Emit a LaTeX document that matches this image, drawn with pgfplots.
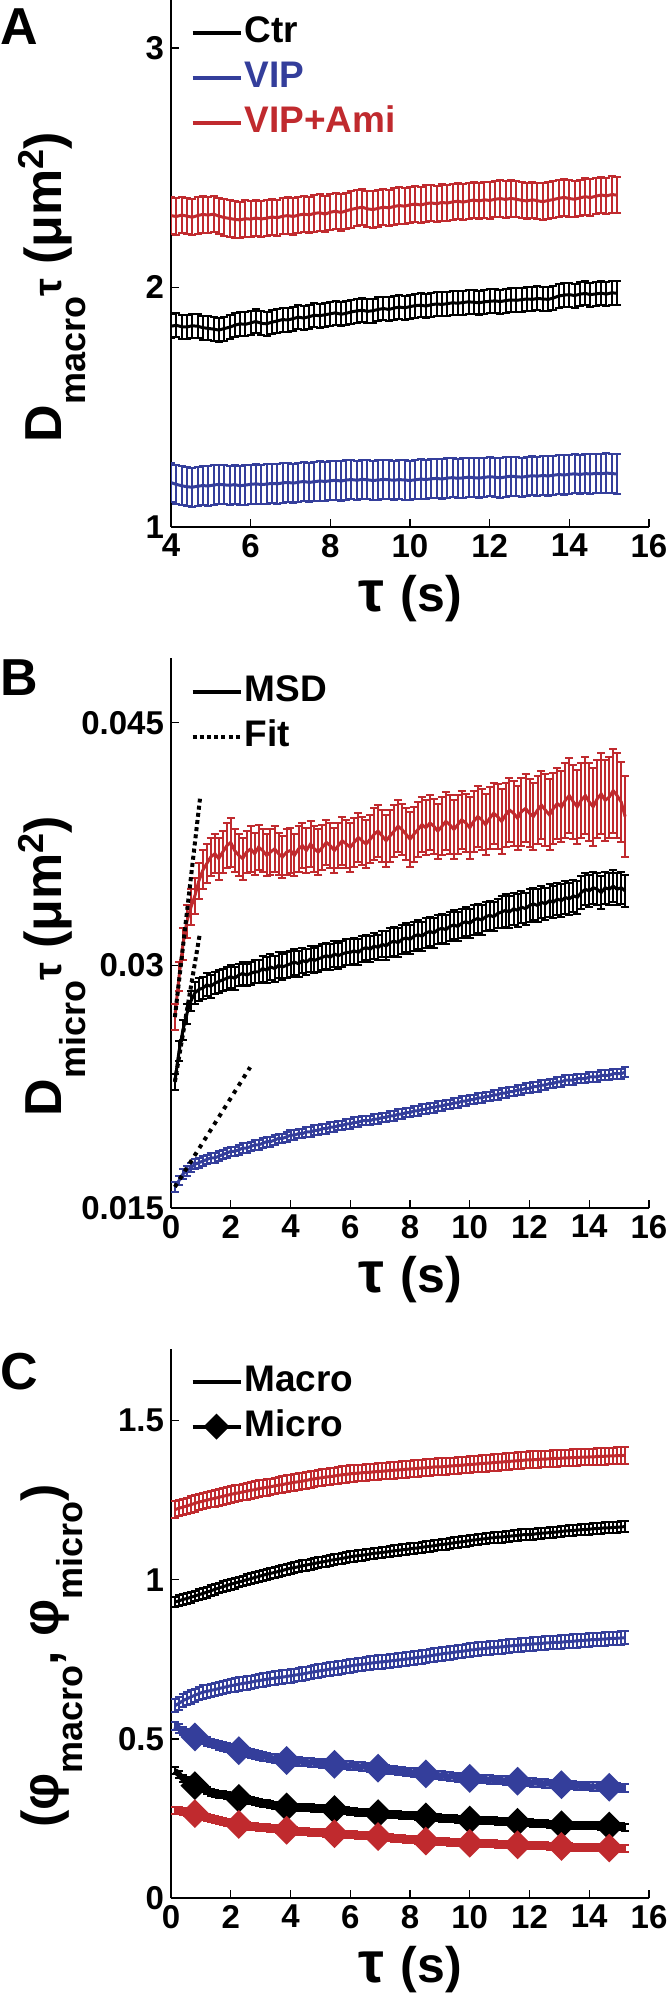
\documentclass[border=0pt]{standalone}
\usepackage{fontspec}
\setmainfont{Liberation Sans}
\usepackage{pgfplots}
\pgfplotsset{compat=1.18}
\usepackage{pgfplotstable}

\definecolor{cred}{RGB}{192,42,46}
\definecolor{cblue}{RGB}{52,62,155}

\newcommand{\tickf}{\bfseries\fontsize{16.5}{18}\selectfont}
\newcommand{\legf}{\bfseries\fontsize{18.5}{20}\selectfont}
\newcommand{\labf}{\bfseries\fontsize{25}{28}\selectfont}
\newcommand{\ylabf}{\bfseries\fontsize{26}{28}\selectfont}
\newcommand{\subf}{\fontsize{18}{18}\selectfont}

\pgfplotsset{
  panel/.style={
    scale only axis, width=239pt,
    axis x line*=bottom, axis y line*=left,
    axis line style={line width=0.7pt},
    every tick/.style={black, line width=0.7pt},
    major tick length=4pt,
    tick align=inside,
    xmax=16,
    scaled y ticks=false,
    tick label style={font=\tickf},
    /pgf/number format/assume math mode=true,
    xlabel={{\fontsize{29}{29}\selectfont τ}\,\,(s)},
    xlabel style={font=\labf, at={(axis description cs:0.5,0)}, anchor=north, inner sep=0pt, yshift=-24pt},
    ylabel style={font=\ylabf, anchor=center},
    legend style={draw=none, fill=none, font=\legf, anchor=north west, inner sep=0pt, row sep=4pt,
      nodes={inner sep=1pt, text height=13pt, text depth=3.5pt}},
    legend cell align=left,
    legend image post style={line width=2pt},
    legend image code/.code={\draw[mark repeat=2,mark phase=2,##1] plot coordinates {(0pt,0pt) (12pt,0pt) (24pt,0pt)};},
  },
  ebar/.style={error bars/.cd, y dir=both, #1,
    error mark options={rotate=90, mark size=2pt, line width=1pt},
    error bar style={line width=1pt}},
}

% panel A: D_macro tau
\pgfplotstableread{
x ctr vip ami
4.00 1.838 1.185 2.300
4.13 1.842 1.178 2.296
4.27 1.836 1.172 2.302
4.40 1.835 1.168 2.298
4.53 1.840 1.166 2.293
4.67 1.838 1.170 2.300
4.80 1.832 1.173 2.305
4.93 1.829 1.171 2.302
5.07 1.826 1.175 2.306
5.20 1.822 1.178 2.298
5.33 1.828 1.176 2.292
5.47 1.834 1.174 2.288
5.60 1.842 1.177 2.284
5.73 1.848 1.172 2.282
5.87 1.846 1.175 2.287
6.00 1.852 1.178 2.285
6.13 1.858 1.180 2.290
6.27 1.850 1.177 2.286
6.40 1.848 1.179 2.289
6.53 1.855 1.182 2.294
6.67 1.860 1.180 2.291
6.80 1.866 1.184 2.297
6.93 1.864 1.186 2.300
7.07 1.870 1.183 2.296
7.20 1.876 1.187 2.302
7.33 1.872 1.190 2.306
7.47 1.878 1.186 2.303
7.60 1.884 1.189 2.309
7.73 1.882 1.192 2.312
7.87 1.886 1.190 2.306
8.00 1.890 1.193 2.314
8.13 1.894 1.195 2.318
8.27 1.888 1.192 2.313
8.40 1.892 1.196 2.320
8.53 1.898 1.198 2.326
8.67 1.902 1.195 2.331
8.80 1.905 1.199 2.335
8.93 1.900 1.197 2.328
9.07 1.903 1.194 2.325
9.20 1.908 1.196 2.330
9.33 1.912 1.199 2.335
9.47 1.908 1.197 2.332
9.60 1.914 1.195 2.338
9.73 1.918 1.198 2.342
9.87 1.915 1.196 2.339
10.00 1.920 1.194 2.345
10.13 1.924 1.197 2.348
10.27 1.926 1.200 2.344
10.40 1.922 1.198 2.350
10.53 1.928 1.201 2.353
10.67 1.931 1.203 2.349
10.80 1.929 1.200 2.355
10.93 1.932 1.204 2.352
11.07 1.936 1.206 2.357
11.20 1.934 1.203 2.360
11.33 1.937 1.205 2.356
11.47 1.940 1.208 2.361
11.60 1.938 1.206 2.365
11.73 1.936 1.204 2.361
11.87 1.940 1.207 2.366
12.00 1.942 1.210 2.363
12.13 1.944 1.208 2.368
12.27 1.941 1.205 2.371
12.40 1.945 1.209 2.367
12.53 1.948 1.212 2.372
12.67 1.946 1.210 2.368
12.80 1.949 1.208 2.364
12.93 1.952 1.211 2.361
13.07 1.950 1.214 2.366
13.20 1.954 1.212 2.362
13.33 1.952 1.215 2.358
13.47 1.950 1.213 2.363
13.60 1.956 1.216 2.367
13.73 1.964 1.219 2.372
13.87 1.968 1.217 2.376
14.00 1.970 1.220 2.371
14.13 1.966 1.222 2.368
14.27 1.972 1.219 2.374
14.40 1.975 1.223 2.379
14.53 1.970 1.221 2.375
14.67 1.973 1.224 2.381
14.80 1.976 1.222 2.386
14.93 1.972 1.225 2.382
15.07 1.978 1.223 2.388
15.20 1.975 1.221 2.385
}\tabA

% panel B: D_micro tau with errors
\pgfplotstableread{
x ctr ectr vip evip ami eami
0.13 0.0228 0.0005 0.0163 0.0003 0.0268 0.0008
0.27 0.0247 0.0006 0.0167 0.0003 0.0293 0.0009
0.40 0.0260 0.0006 0.0171 0.0003 0.0313 0.0010
0.53 0.0270 0.0006 0.0173 0.0003 0.0327 0.0010
0.67 0.0278 0.0006 0.0175 0.0003 0.0336 0.0011
0.80 0.0283 0.0007 0.0177 0.0003 0.0343 0.0011
0.93 0.0285 0.0007 0.0178 0.0003 0.0352 0.0011
1.07 0.0286 0.0007 0.0179 0.0003 0.0359 0.0012
1.20 0.0288 0.0007 0.0180 0.0003 0.0363 0.0012
1.33 0.0287 0.0007 0.0181 0.0003 0.0367 0.0012
1.47 0.0289 0.0007 0.0181 0.0003 0.0369 0.0012
1.60 0.0290 0.0007 0.0182 0.0003 0.0366 0.0013
1.73 0.0291 0.0007 0.0183 0.0003 0.0370 0.0013
1.87 0.0292 0.0007 0.0184 0.0003 0.0374 0.0014
2.00 0.0293 0.0007 0.0185 0.0003 0.0376 0.0015
2.13 0.0292 0.0007 0.0185 0.0003 0.0371 0.0013
2.27 0.0294 0.0007 0.0186 0.0003 0.0368 0.0013
2.40 0.0295 0.0007 0.0187 0.0003 0.0366 0.0013
2.53 0.0294 0.0007 0.0187 0.0003 0.0370 0.0013
2.67 0.0295 0.0007 0.0188 0.0003 0.0372 0.0014
2.80 0.0296 0.0007 0.0189 0.0003 0.0369 0.0013
2.93 0.0296 0.0007 0.0189 0.0003 0.0373 0.0014
3.07 0.0298 0.0008 0.0190 0.0003 0.0371 0.0013
3.20 0.0297 0.0008 0.0191 0.0003 0.0368 0.0013
3.33 0.0299 0.0008 0.0191 0.0003 0.0370 0.0014
3.47 0.0298 0.0008 0.0192 0.0003 0.0372 0.0014
3.60 0.0300 0.0008 0.0193 0.0003 0.0369 0.0013
3.73 0.0299 0.0008 0.0193 0.0003 0.0367 0.0013
3.87 0.0300 0.0008 0.0194 0.0003 0.0370 0.0014
4.00 0.0301 0.0008 0.0195 0.0003 0.0371 0.0014
4.13 0.0302 0.0008 0.0195 0.0003 0.0368 0.0013
4.27 0.0301 0.0008 0.0196 0.0003 0.0372 0.0014
4.40 0.0303 0.0008 0.0196 0.0003 0.0374 0.0014
4.53 0.0302 0.0008 0.0197 0.0003 0.0371 0.0014
4.67 0.0304 0.0008 0.0197 0.0003 0.0375 0.0014
4.80 0.0303 0.0008 0.0198 0.0003 0.0372 0.0014
4.93 0.0304 0.0008 0.0198 0.0003 0.0370 0.0014
5.07 0.0305 0.0008 0.0199 0.0003 0.0373 0.0014
5.20 0.0306 0.0008 0.0199 0.0003 0.0376 0.0014
5.33 0.0305 0.0008 0.0200 0.0003 0.0374 0.0014
5.47 0.0307 0.0008 0.0200 0.0003 0.0371 0.0014
5.60 0.0306 0.0008 0.0201 0.0003 0.0374 0.0014
5.73 0.0307 0.0008 0.0201 0.0003 0.0377 0.0015
5.87 0.0308 0.0008 0.0202 0.0003 0.0375 0.0015
6.00 0.0308 0.0008 0.0202 0.0003 0.0373 0.0015
6.13 0.0309 0.0008 0.0203 0.0003 0.0376 0.0015
6.27 0.0308 0.0008 0.0203 0.0003 0.0379 0.0015
6.40 0.0310 0.0008 0.0204 0.0003 0.0377 0.0015
6.53 0.0311 0.0008 0.0204 0.0003 0.0375 0.0015
6.67 0.0310 0.0008 0.0204 0.0003 0.0378 0.0015
6.80 0.0312 0.0008 0.0205 0.0003 0.0381 0.0016
6.93 0.0311 0.0008 0.0205 0.0003 0.0383 0.0016
7.07 0.0313 0.0008 0.0206 0.0003 0.0380 0.0016
7.20 0.0312 0.0009 0.0206 0.0003 0.0377 0.0016
7.33 0.0314 0.0009 0.0207 0.0003 0.0380 0.0016
7.47 0.0315 0.0009 0.0207 0.0003 0.0383 0.0016
7.60 0.0314 0.0009 0.0208 0.0003 0.0386 0.0016
7.73 0.0316 0.0009 0.0208 0.0003 0.0384 0.0016
7.87 0.0317 0.0009 0.0209 0.0003 0.0381 0.0016
8.00 0.0316 0.0009 0.0209 0.0003 0.0378 0.0017
8.13 0.0318 0.0009 0.0210 0.0003 0.0381 0.0017
8.27 0.0319 0.0009 0.0210 0.0003 0.0384 0.0017
8.40 0.0318 0.0009 0.0211 0.0003 0.0387 0.0017
8.53 0.0320 0.0009 0.0211 0.0003 0.0385 0.0017
8.67 0.0321 0.0009 0.0212 0.0003 0.0388 0.0017
8.80 0.0320 0.0009 0.0212 0.0003 0.0386 0.0017
8.93 0.0322 0.0009 0.0213 0.0003 0.0383 0.0017
9.07 0.0323 0.0009 0.0213 0.0003 0.0386 0.0018
9.20 0.0322 0.0009 0.0214 0.0003 0.0389 0.0018
9.33 0.0324 0.0009 0.0214 0.0003 0.0387 0.0018
9.47 0.0325 0.0009 0.0215 0.0003 0.0384 0.0018
9.60 0.0324 0.0009 0.0215 0.0003 0.0387 0.0018
9.73 0.0326 0.0009 0.0216 0.0003 0.0390 0.0018
9.87 0.0327 0.0009 0.0216 0.0003 0.0388 0.0018
10.00 0.0326 0.0009 0.0217 0.0003 0.0385 0.0019
10.13 0.0328 0.0009 0.0217 0.0003 0.0389 0.0019
10.27 0.0329 0.0009 0.0218 0.0003 0.0392 0.0019
10.40 0.0328 0.0009 0.0218 0.0003 0.0390 0.0019
10.53 0.0330 0.0009 0.0219 0.0003 0.0387 0.0019
10.67 0.0331 0.0009 0.0219 0.0003 0.0391 0.0019
10.80 0.0330 0.0009 0.0220 0.0003 0.0394 0.0019
10.93 0.0332 0.0009 0.0220 0.0003 0.0392 0.0020
11.07 0.0333 0.0010 0.0221 0.0003 0.0389 0.0020
11.20 0.0334 0.0010 0.0221 0.0003 0.0393 0.0020
11.33 0.0333 0.0010 0.0222 0.0003 0.0396 0.0020
11.47 0.0335 0.0010 0.0222 0.0003 0.0394 0.0020
11.60 0.0334 0.0010 0.0223 0.0003 0.0391 0.0020
11.73 0.0336 0.0010 0.0223 0.0003 0.0395 0.0021
11.87 0.0335 0.0010 0.0224 0.0003 0.0397 0.0021
12.00 0.0337 0.0010 0.0224 0.0003 0.0394 0.0021
12.13 0.0338 0.0010 0.0225 0.0003 0.0392 0.0021
12.27 0.0337 0.0010 0.0225 0.0003 0.0396 0.0021
12.40 0.0339 0.0010 0.0226 0.0003 0.0399 0.0021
12.53 0.0338 0.0010 0.0226 0.0003 0.0396 0.0022
12.67 0.0340 0.0010 0.0227 0.0003 0.0393 0.0022
12.80 0.0339 0.0010 0.0227 0.0003 0.0397 0.0022
12.93 0.0341 0.0010 0.0228 0.0003 0.0400 0.0022
13.07 0.0340 0.0010 0.0228 0.0003 0.0398 0.0022
13.20 0.0342 0.0010 0.0229 0.0003 0.0402 0.0023
13.33 0.0341 0.0010 0.0229 0.0003 0.0405 0.0023
13.47 0.0343 0.0010 0.0229 0.0003 0.0401 0.0023
13.60 0.0342 0.0010 0.0230 0.0003 0.0398 0.0023
13.73 0.0345 0.0010 0.0230 0.0003 0.0402 0.0023
13.87 0.0347 0.0010 0.0230 0.0003 0.0405 0.0024
14.00 0.0346 0.0010 0.0231 0.0003 0.0401 0.0024
14.13 0.0348 0.0010 0.0231 0.0003 0.0398 0.0024
14.27 0.0347 0.0010 0.0231 0.0003 0.0403 0.0024
14.40 0.0345 0.0010 0.0232 0.0003 0.0406 0.0025
14.53 0.0348 0.0010 0.0232 0.0003 0.0402 0.0025
14.67 0.0347 0.0010 0.0232 0.0003 0.0404 0.0025
14.80 0.0349 0.0010 0.0233 0.0003 0.0408 0.0026
14.93 0.0347 0.0010 0.0233 0.0003 0.0405 0.0026
15.07 0.0348 0.0010 0.0233 0.0003 0.0401 0.0025
15.20 0.0346 0.0010 0.0234 0.0003 0.0392 0.0025
}\tabB

% panel C: phi macro (M) and micro (m)
\pgfplotstableread{
x ctrM vipM amiM ctrm vipm amim
0.13 0.930 0.604 1.220 0.400 0.541 0.275
0.27 0.934 0.612 1.225 0.388 0.533 0.274
0.40 0.938 0.620 1.228 0.375 0.525 0.272
0.53 0.941 0.626 1.232 0.368 0.519 0.270
0.67 0.945 0.632 1.236 0.360 0.512 0.268
0.80 0.949 0.637 1.240 0.353 0.506 0.265
0.93 0.953 0.642 1.244 0.348 0.501 0.261
1.07 0.957 0.647 1.247 0.343 0.497 0.257
1.20 0.961 0.649 1.250 0.338 0.492 0.253
1.33 0.965 0.652 1.253 0.333 0.488 0.250
1.47 0.970 0.655 1.256 0.329 0.483 0.246
1.60 0.974 0.658 1.259 0.326 0.479 0.243
1.73 0.978 0.661 1.262 0.324 0.476 0.241
1.87 0.982 0.664 1.265 0.321 0.473 0.238
2.00 0.986 0.667 1.268 0.318 0.470 0.236
2.13 0.989 0.669 1.271 0.316 0.467 0.233
2.27 0.993 0.672 1.273 0.313 0.463 0.231
2.40 0.996 0.674 1.276 0.311 0.460 0.229
2.53 1.000 0.676 1.278 0.308 0.457 0.228
2.67 1.003 0.678 1.281 0.306 0.454 0.226
2.80 1.007 0.681 1.283 0.303 0.451 0.225
2.93 1.010 0.683 1.286 0.300 0.448 0.223
3.07 1.014 0.685 1.288 0.298 0.445 0.221
3.20 1.017 0.687 1.290 0.296 0.443 0.220
3.33 1.020 0.689 1.292 0.294 0.440 0.218
3.47 1.023 0.691 1.295 0.292 0.438 0.217
3.60 1.026 0.693 1.297 0.290 0.436 0.215
3.73 1.029 0.694 1.299 0.288 0.434 0.214
3.87 1.033 0.696 1.302 0.286 0.432 0.213
4.00 1.036 0.698 1.304 0.286 0.431 0.212
4.13 1.038 0.700 1.306 0.285 0.430 0.211
4.27 1.041 0.702 1.308 0.285 0.429 0.210
4.40 1.044 0.704 1.310 0.284 0.428 0.209
4.53 1.046 0.706 1.312 0.284 0.427 0.208
4.67 1.049 0.709 1.315 0.283 0.426 0.207
4.80 1.051 0.711 1.317 0.282 0.425 0.206
4.93 1.054 0.713 1.319 0.282 0.424 0.205
5.07 1.056 0.715 1.321 0.281 0.423 0.205
5.20 1.058 0.717 1.323 0.280 0.422 0.204
5.33 1.061 0.719 1.324 0.279 0.421 0.203
5.47 1.063 0.721 1.326 0.278 0.420 0.202
5.60 1.065 0.723 1.328 0.277 0.419 0.201
5.73 1.067 0.725 1.330 0.275 0.418 0.200
5.87 1.070 0.727 1.331 0.274 0.417 0.200
6.00 1.072 0.729 1.333 0.272 0.416 0.199
6.13 1.074 0.731 1.334 0.271 0.415 0.198
6.27 1.076 0.733 1.335 0.270 0.414 0.197
6.40 1.077 0.734 1.336 0.269 0.413 0.196
6.53 1.079 0.736 1.337 0.268 0.412 0.195
6.67 1.081 0.738 1.338 0.268 0.410 0.195
6.80 1.083 0.739 1.339 0.267 0.409 0.194
6.93 1.084 0.741 1.340 0.265 0.408 0.193
7.07 1.086 0.742 1.341 0.264 0.406 0.192
7.20 1.087 0.743 1.342 0.263 0.405 0.191
7.33 1.089 0.745 1.343 0.263 0.403 0.190
7.47 1.091 0.746 1.344 0.262 0.402 0.188
7.60 1.092 0.748 1.345 0.261 0.400 0.187
7.73 1.094 0.749 1.346 0.260 0.399 0.186
7.87 1.095 0.751 1.347 0.259 0.397 0.185
8.00 1.097 0.752 1.348 0.258 0.396 0.184
8.13 1.099 0.754 1.349 0.258 0.394 0.183
8.27 1.100 0.756 1.350 0.257 0.393 0.182
8.40 1.102 0.757 1.351 0.256 0.391 0.180
8.53 1.104 0.759 1.352 0.255 0.390 0.179
8.67 1.105 0.761 1.353 0.254 0.389 0.178
8.80 1.107 0.763 1.354 0.253 0.387 0.177
8.93 1.109 0.765 1.355 0.252 0.386 0.177
9.07 1.111 0.767 1.355 0.251 0.385 0.176
9.20 1.112 0.769 1.356 0.251 0.383 0.176
9.33 1.114 0.770 1.357 0.250 0.382 0.175
9.47 1.116 0.772 1.358 0.249 0.381 0.175
9.60 1.118 0.774 1.359 0.248 0.379 0.174
9.73 1.119 0.775 1.360 0.247 0.378 0.174
9.87 1.121 0.777 1.361 0.246 0.377 0.173
10.00 1.123 0.779 1.362 0.245 0.376 0.172
10.13 1.125 0.780 1.363 0.245 0.375 0.172
10.27 1.126 0.782 1.364 0.244 0.374 0.171
10.40 1.128 0.783 1.365 0.244 0.374 0.171
10.53 1.129 0.784 1.366 0.243 0.373 0.171
10.67 1.131 0.786 1.367 0.242 0.372 0.170
10.80 1.132 0.787 1.368 0.242 0.371 0.170
10.93 1.134 0.788 1.369 0.241 0.370 0.169
11.07 1.134 0.789 1.370 0.241 0.370 0.169
11.20 1.136 0.790 1.371 0.240 0.369 0.168
11.33 1.137 0.792 1.372 0.240 0.368 0.168
11.47 1.138 0.793 1.373 0.239 0.367 0.168
11.60 1.139 0.794 1.374 0.238 0.367 0.167
11.73 1.141 0.795 1.375 0.237 0.366 0.167
11.87 1.142 0.796 1.376 0.237 0.365 0.166
12.00 1.142 0.797 1.377 0.236 0.364 0.166
12.13 1.143 0.798 1.377 0.235 0.363 0.165
12.27 1.145 0.799 1.378 0.235 0.362 0.165
12.40 1.146 0.800 1.379 0.234 0.361 0.164
12.53 1.147 0.801 1.379 0.233 0.360 0.164
12.67 1.148 0.802 1.380 0.232 0.359 0.163
12.80 1.149 0.803 1.381 0.232 0.358 0.163
12.93 1.150 0.803 1.381 0.231 0.357 0.162
13.07 1.152 0.804 1.382 0.230 0.356 0.162
13.20 1.153 0.805 1.383 0.230 0.355 0.161
13.33 1.154 0.806 1.383 0.229 0.354 0.161
13.47 1.155 0.807 1.384 0.229 0.354 0.160
13.60 1.156 0.808 1.384 0.229 0.353 0.160
13.73 1.157 0.809 1.385 0.228 0.352 0.160
13.87 1.158 0.810 1.385 0.228 0.352 0.159
14.00 1.159 0.811 1.386 0.227 0.351 0.159
14.13 1.160 0.812 1.386 0.227 0.350 0.159
14.27 1.161 0.812 1.387 0.227 0.350 0.158
14.40 1.162 0.813 1.388 0.226 0.349 0.158
14.53 1.163 0.814 1.388 0.226 0.349 0.158
14.67 1.163 0.815 1.389 0.226 0.348 0.157
14.80 1.164 0.816 1.389 0.225 0.347 0.157
14.93 1.165 0.816 1.390 0.225 0.347 0.156
15.07 1.166 0.817 1.390 0.224 0.346 0.156
15.20 1.167 0.818 1.391 0.223 0.345 0.155
}\tabC

\begin{document}
\begin{tikzpicture}
\useasboundingbox (0,0) rectangle (333pt,998pt);

% ---------------- A ----------------
\begin{axis}[panel, at={(85.5pt,734.5pt)}, anchor=south west, height=263.5pt,
  xmin=4, ymin=1, ymax=3.2, xtick={4,6,...,16}, ytick={1,2,3},
  ylabel={D\raisebox{-12pt}{\subf macro}{\fontsize{20}{20}\selectfont τ} (μm\raisebox{9pt}{\subf 2})},
  ylabel style={at={(axis description cs:-0.249,0.455)}},
  legend style={at={(axis description cs:0.04,0.973)}}]
\addplot[black, line width=1.5pt, ebar={y fixed=0.05}] table[x=x,y=ctr] {\tabA};
\addlegendentry{Ctr}
\addplot[cblue, line width=1.5pt, ebar={y fixed=0.082}] table[x=x,y=vip] {\tabA};
\addlegendentry{\textcolor{cblue}{VIP}}
\addplot[cred, line width=1.5pt, ebar={y fixed=0.076}] table[x=x,y=ami] {\tabA};
\addlegendentry{\textcolor{cred}{VIP+Ami}}
\end{axis}

% ---------------- B ----------------
\begin{axis}[panel, at={(85.5pt,394pt)}, anchor=south west, height=275pt,
  xmin=0, ymin=0.015, ymax=0.049, xtick={0,2,...,16},
  ytick={0.015,0.03,0.045}, yticklabels={0.015,0.03,0.045},
  ylabel={D\raisebox{-12pt}{\subf micro}{\fontsize{20}{20}\selectfont τ} (μm\raisebox{9pt}{\subf 2})},
  ylabel style={at={(axis description cs:-0.249,0.44)}},
  legend style={at={(axis description cs:0.04,0.973)}}]
\addlegendimage{black}
\addlegendentry{MSD}
\addlegendimage{black, dash pattern=on 2pt off 1.6pt}
\addlegendentry{Fit}
\addplot[black, line width=1.5pt, forget plot, ebar={y explicit}] table[x=x,y=ctr,y error=ectr] {\tabB};
\addplot[cblue, line width=1.5pt, forget plot, ebar={y explicit}] table[x=x,y=vip,y error=evip] {\tabB};
\addplot[cred, line width=1.5pt, forget plot, ebar={y explicit}] table[x=x,y=ami,y error=eami] {\tabB};
% fits
\addplot[black, line width=2pt, dash pattern=on 2pt off 1.6pt, forget plot] coordinates {(0.13,0.0268) (0.97,0.0403)};
\addplot[black, line width=2pt, dash pattern=on 2pt off 1.6pt, forget plot] coordinates {(0.13,0.0228) (0.97,0.0320)};
\addplot[black, line width=2pt, dash pattern=on 2pt off 2.6pt, forget plot] coordinates {(0.13,0.0163) (2.65,0.0237)};
\end{axis}

% ---------------- C ----------------
\begin{axis}[panel, at={(85.5pt,49pt)}, anchor=south west, height=274.5pt,
  xmin=0, ymin=0, ymax=1.725, xtick={0,2,...,16}, ytick={0,0.5,1,1.5},
  ylabel={(φ\raisebox{-12pt}{\subf macro}, φ\raisebox{-12pt}{\subf micro})},
  ylabel style={at={(axis description cs:-0.249,0.441)}},
  legend style={at={(axis description cs:0.04,0.975)}}]
\addlegendimage{black}
\addlegendentry{Macro}
\addlegendimage{black, mark=square*, mark size=3.6pt, mark options={rotate=45}}
\addlegendentry{Micro}
\addplot[black, line width=1.5pt, forget plot, ebar={y fixed=0.017}] table[x=x,y=ctrM] {\tabC};
\addplot[cblue, line width=1.5pt, forget plot, ebar={y fixed=0.021}] table[x=x,y=vipM] {\tabC};
\addplot[cred, line width=1.5pt, forget plot, ebar={y fixed=0.026}] table[x=x,y=amiM] {\tabC};
\addplot[black, line width=3pt, forget plot, mark=square*, mark size=3.6pt, mark options={rotate=45},
  mark indices={6,17,29,41,52,64,75,87,98,110}, ebar={y fixed=0.011}] table[x=x,y=ctrm] {\tabC};
\addplot[cblue, line width=3pt, forget plot, mark=square*, mark size=3.6pt, mark options={rotate=45},
  mark indices={6,17,29,41,52,64,75,87,98,110}, ebar={y fixed=0.013}] table[x=x,y=vipm] {\tabC};
\addplot[cred, line width=3pt, forget plot, mark=square*, mark size=3.6pt, mark options={rotate=45},
  mark indices={6,17,29,41,52,64,75,87,98,110}, ebar={y fixed=0.011}] table[x=x,y=amim] {\tabC};
\end{axis}

\node[anchor=base west, inner sep=0pt, font=\bfseries\fontsize{26}{28}\selectfont] at (0pt,975.5pt) {A};
\node[anchor=base west, inner sep=0pt, font=\bfseries\fontsize{26}{28}\selectfont] at (0pt,650pt) {B};
\node[anchor=base west, inner sep=0pt, font=\bfseries\fontsize{26}{28}\selectfont] at (0pt,303pt) {C};
\end{tikzpicture}
\end{document}
